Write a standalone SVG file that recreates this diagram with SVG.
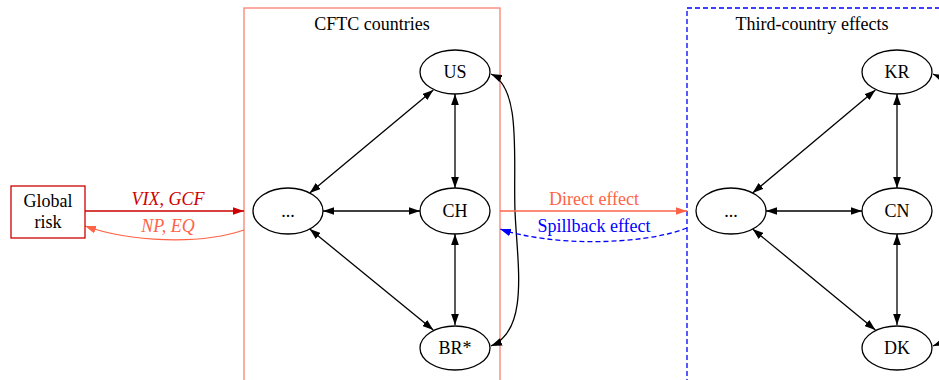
<svg xmlns="http://www.w3.org/2000/svg" width="939" height="380" viewBox="0 0 939 380">
<style>
text{font-family:"Liberation Serif","Times New Roman",serif;font-size:18px;text-anchor:middle}
.n{fill:#fff;stroke:#000;stroke-width:1.3}
.e{fill:none;stroke:#000;stroke-width:1.3}
</style>
<defs>
<marker id="ab" viewBox="0 0 10 7" refX="10" refY="3.5" markerWidth="11" markerHeight="8" markerUnits="userSpaceOnUse" orient="auto-start-reverse"><path d="M0,0L10,3.5L0,7z" fill="#000"/></marker>
<marker id="ar" viewBox="0 0 10 7" refX="10" refY="3.5" markerWidth="11" markerHeight="8" markerUnits="userSpaceOnUse" orient="auto"><path d="M0,0L10,3.5L0,7z" fill="#cc0000"/></marker>
<marker id="at" viewBox="0 0 10 7" refX="10" refY="3.5" markerWidth="11" markerHeight="8" markerUnits="userSpaceOnUse" orient="auto"><path d="M0,0L10,3.5L0,7z" fill="#ff6347"/></marker>
<marker id="abl" viewBox="0 0 10 7" refX="10" refY="3.5" markerWidth="11" markerHeight="8" markerUnits="userSpaceOnUse" orient="auto"><path d="M0,0L10,3.5L0,7z" fill="#0000ff"/></marker>
</defs>
<rect width="939" height="380" fill="#fff"/>
<g id="cluster-cftc">
<rect x="244" y="8" width="256" height="420" fill="none" stroke="#fa8072" stroke-width="1.3"/>
<text x="372" y="30">CFTC countries</text>
</g>
<g id="cluster-third">
<rect x="687" y="8" width="300" height="420" fill="none" stroke="#0000ff" stroke-width="1.3" stroke-dasharray="5,3"/>
<text x="812" y="30">Third-country effects</text>
</g>
<g id="connectors">
<path class="e" d="M309.7,193L433.3,90" marker-start="url(#ab)" marker-end="url(#ab)"/>
<path class="e" d="M323,211L420,211" marker-start="url(#ab)" marker-end="url(#ab)"/>
<path class="e" d="M309.7,229L433.3,330" marker-start="url(#ab)" marker-end="url(#ab)"/>
<path class="e" d="M455,94L455,188" marker-start="url(#ab)" marker-end="url(#ab)"/>
<path class="e" d="M455,234L455,325" marker-start="url(#ab)" marker-end="url(#ab)"/>
<path class="e" d="M491,74C522,88 513,160 515,211C517,262 530,330 491,346" marker-start="url(#ab)" marker-end="url(#ab)"/>
<path class="e" d="M752.6,193L875.4,90" marker-start="url(#ab)" marker-end="url(#ab)"/>
<path class="e" d="M766,211L862,211" marker-start="url(#ab)" marker-end="url(#ab)"/>
<path class="e" d="M752.6,229L875.4,330" marker-start="url(#ab)" marker-end="url(#ab)"/>
<path class="e" d="M897,94L897,188" marker-start="url(#ab)" marker-end="url(#ab)"/>
<path class="e" d="M897,234L897,325" marker-start="url(#ab)" marker-end="url(#ab)"/>
<path class="e" d="M933,74C964,88 955,160 957,211C959,262 972,330 933,346" marker-start="url(#ab)" marker-end="url(#ab)"/>
<path d="M85,211L244,211" fill="none" stroke="#cc0000" stroke-width="1.3" marker-end="url(#ar)"/>
<text x="168" y="205" fill="#cc0000" font-style="italic">VIX, GCF</text>
<path d="M244,230C200,245 130,242 85,226" fill="none" stroke="#ff6347" stroke-width="1.3" marker-end="url(#at)"/>
<text x="168" y="232" fill="#ff6347" font-style="italic">NP, EQ</text>
<path d="M500,211L687,211" fill="none" stroke="#ff6347" stroke-width="1.3" marker-end="url(#at)"/>
<text x="594" y="205" fill="#ff6347">Direct effect</text>
<path d="M687,228C640,246 550,246 500,229" fill="none" stroke="#0000ff" stroke-width="1.3" stroke-dasharray="5,3" marker-end="url(#abl)"/>
<text x="594" y="232" fill="#0000ff">Spillback effect</text>
</g>
<g id="global-risk"><rect x="11" y="186" width="74" height="52" fill="#fff" stroke="#cc0000" stroke-width="1.3"/><text x="48" y="207">Global</text><text x="48" y="228">risk</text></g>
<g id="cftc-etc"><ellipse class="n" cx="288" cy="211" rx="35" ry="23"/><text x="288" y="217">...</text></g>
<g id="us"><ellipse class="n" cx="455" cy="72" rx="35" ry="22"/><text x="455" y="78">US</text></g>
<g id="ch"><ellipse class="n" cx="455" cy="211" rx="35" ry="23"/><text x="455" y="217">CH</text></g>
<g id="br"><ellipse class="n" cx="455" cy="348" rx="35" ry="22"/><text x="455" y="354">BR*</text></g>
<g id="third-etc"><ellipse class="n" cx="731" cy="211" rx="35" ry="23"/><text x="731" y="217">...</text></g>
<g id="kr"><ellipse class="n" cx="897" cy="72" rx="35" ry="22"/><text x="897" y="78">KR</text></g>
<g id="cn"><ellipse class="n" cx="897" cy="211" rx="35" ry="23"/><text x="897" y="217">CN</text></g>
<g id="dk"><ellipse class="n" cx="897" cy="348" rx="35" ry="22"/><text x="897" y="354">DK</text></g>
</svg>
